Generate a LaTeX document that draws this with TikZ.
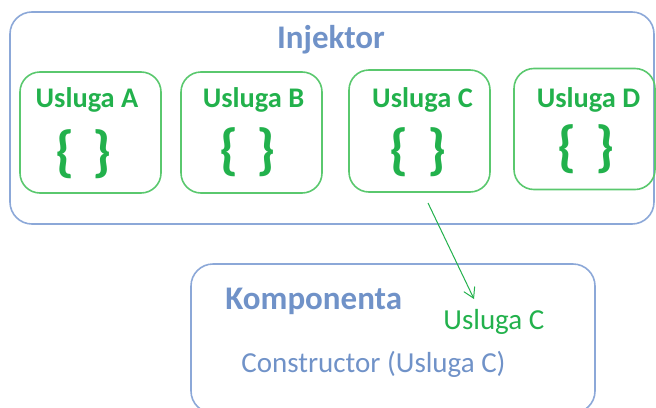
\documentclass[tikz,border=0pt]{standalone}
\usepackage{fontspec}
\setmainfont{Carlito}
\usetikzlibrary{arrows.meta}

\definecolor{injblue}{RGB}{112,146,200}
\definecolor{boxblue}{RGB}{140,168,216}
\definecolor{uslgreen}{RGB}{34,177,76}
\definecolor{boxgreen}{RGB}{90,200,110}

\tikzset{
    bigbox/.style={draw=boxblue, line width=0.8pt, rounded corners=11pt, inner sep=0pt},
    uslbox/.style={draw=boxgreen, line width=0.8pt, rounded corners=10pt, inner sep=0pt,
                   minimum width=70.5pt, minimum height=60.5pt},
    bigtitle/.style={font=\fontsize{16.5}{20}\selectfont\bfseries, text=injblue, inner sep=0pt},
    usltitle/.style={font=\fontsize{14.2}{17}\selectfont\bfseries, text=uslgreen, inner sep=0pt},
    uslbrace/.style={font=\fontsize{28}{32}\selectfont\bfseries, text=uslgreen, inner sep=0pt},
    comptext/.style={font=\fontsize{14.5}{17}\selectfont, inner sep=0pt}
}

\begin{document}
\begin{tikzpicture}[x=0.5pt, y=-0.5pt]
    \useasboundingbox (0,0) rectangle (656,407);

    % Injektor
    \node[bigbox, minimum width=322pt, minimum height=106pt] (injektor) at (332,118) {};
    \node[bigtitle, anchor=base] (injtitle) at (331,48) {Injektor};

    \node[uslbox] (uslA) at (90.5,132.5) {};
    \node[uslbox] (uslB) at (251.5,132.5) {};
    \node[uslbox, minimum height=61pt] (uslC) at (419.5,131) {};
    \node[uslbox] (uslD) at (584.5,129) {};

    \node[usltitle, anchor=base] (titleA) at (87,107) {Usluga A};
    \node[usltitle, anchor=base] (titleB) at (253.5,107) {Usluga B};
    \node[usltitle, anchor=base] (titleC) at (422.5,107) {Usluga C};
    \node[usltitle, anchor=base] (titleD) at (588.5,107) {Usluga D};

    \node[uslbrace] (braceA) at (84,154) {\{\hspace{9pt}\}};
    \node[uslbrace] (braceB) at (248,152) {\{\hspace{9pt}\}};
    \node[uslbrace] (braceC) at (418,152) {\{\hspace{9pt}\}};
    \node[uslbrace] (braceD) at (586,149) {\{\hspace{9pt}\}};

    % Komponenta
    \node[bigbox, minimum width=202pt, minimum height=74.5pt] (komponenta) at (393,338.5) {};
    \node[bigtitle, anchor=base west] (komptitle) at (225,309) {Komponenta};
    \node[comptext, text=uslgreen, anchor=base west] (kompusl) at (443,329) {Usluga C};
    \node[comptext, text=injblue, anchor=base west] (constructor) at (241,372) {Constructor (Usluga C)};

    \coordinate (arrstart) at (428,203);
    \coordinate (arrend) at (474,299);
    \draw[uslgreen, line width=0.5pt, -{Straight Barb[length=5pt,width=6pt]}] (arrstart) -- (arrend);
\end{tikzpicture}
\end{document}
